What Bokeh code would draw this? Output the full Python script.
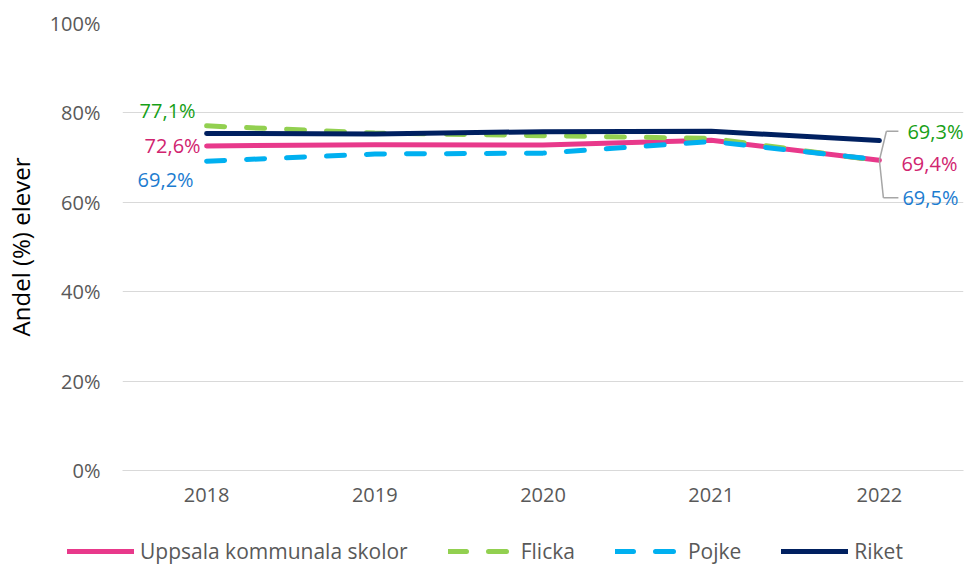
from bokeh.plotting import figure
from bokeh.layouts import column
from bokeh.models import (FactorRange, Range1d, Legend, LegendItem, ColumnDataSource,
                          FixedTicker)
from bokeh.transform import dodge
from bokeh.core.properties import value
from bokeh.embed import file_html
from bokeh.resources import INLINE

# ---------------- data ----------------
years = ["2018", "2019", "2020", "2021", "2022"]
uppsala = [72.6, 72.9, 72.8, 73.9, 69.4]
flicka = [77.1, 75.5, 74.9, 74.3, 69.3]
pojke = [69.2, 70.8, 71.0, 73.6, 69.5]
riket = [75.4, 75.3, 75.8, 75.9, 73.8]
series_names = ["Uppsala kommunala skolor", "Flicka", "Pojke", "Riket"]
y_ticks = [0, 20, 40, 60, 80, 100]
y_tick_labels = ["0%", "20%", "40%", "60%", "80%", "100%"]
y_title = "Andel (%) elever"

# ---------------- style ----------------
FONT = "Open Sans"
C_PINK, C_GREEN, C_BLUE, C_NAVY = "#E8398B", "#92D050", "#00B0F0", "#002060"
L_PINK, L_GREEN, L_BLUE = "#D1246F", "#17A017", "#1C7CD0"
GRAY_TXT = "#595959"
PX_PER_CAT = 168.2
PX_PER_PCT = 4.47
W = 970

styles = [
    dict(line_color=C_PINK),
    dict(line_color=C_GREEN, line_dash="18 22"),
    dict(line_color=C_BLUE, line_dash="18 22"),
    dict(line_color=C_NAVY),
]


def fmt(v):
    return ("%.1f%%" % v).replace(".", ",")


p = figure(x_range=FactorRange(*years), y_range=Range1d(0, 100),
           width=W, height=513, output_backend="svg", toolbar_location=None,
           min_border_top=23, min_border_right=7, min_border_left=122,
           min_border_bottom=43)
p.outline_line_color = None

# axes
p.yaxis.ticker = FixedTicker(ticks=y_ticks)
p.yaxis.major_label_overrides = {t: l for t, l in zip(y_ticks, y_tick_labels)}
p.yaxis.axis_line_color = None
p.yaxis.major_tick_line_color = None
p.yaxis.major_tick_out = 0
p.yaxis.major_tick_in = 0
p.yaxis.minor_tick_line_color = None
p.yaxis.major_label_text_font = FONT
p.yaxis.major_label_text_font_size = "20px"
p.yaxis.major_label_text_color = GRAY_TXT
p.yaxis.major_label_standoff = 22
p.yaxis.axis_label = y_title
p.yaxis.axis_label_text_font = FONT
p.yaxis.axis_label_text_font_size = "24px"
p.yaxis.axis_label_text_font_style = "normal"
p.yaxis.axis_label_text_color = "#000000"
p.yaxis.axis_label_standoff = 10

p.xaxis.axis_line_color = "#D9D9D9"
p.xaxis.axis_line_width = 1
p.xaxis.major_tick_line_color = None
p.xaxis.major_tick_out = 0
p.xaxis.major_tick_in = 0
p.xaxis.minor_tick_line_color = None
p.xaxis.major_label_text_font = FONT
p.xaxis.major_label_text_font_size = "20px"
p.xaxis.major_label_text_color = GRAY_TXT
p.xaxis.major_label_standoff = 17

p.xgrid.visible = False
p.ygrid.grid_line_color = "#D9D9D9"
p.ygrid.grid_line_width = 1

# lines
src = ColumnDataSource(dict(x=years, u=uppsala, f=flicka, b=pojke, r=riket))
for col, st in zip(["u", "f", "b", "r"], styles):
    p.line("x", col, source=src, line_width=5, line_cap="round", line_join="round", **st)

# data labels (first and last year)
first, last = years[0], years[-1]
left_src = ColumnDataSource(dict(
    x=[first] * 3,
    y=[flicka[0], uppsala[0], pojke[0]],
    t=[fmt(flicka[0]), fmt(uppsala[0]), fmt(pojke[0])],
    c=[L_GREEN, L_PINK, L_BLUE],
    xo=[-11, -6, -13],
    yo=[-15.6, 0, 18],
))
p.text("x", "y", text="t", source=left_src, text_color="c", x_offset="xo", y_offset="yo",
       text_align="right", text_baseline="middle", text_font=value(FONT), text_font_size="20px")

right_src = ColumnDataSource(dict(
    x=[last] * 3,
    y=[flicka[-1], uppsala[-1], pojke[-1]],
    t=[fmt(flicka[-1]), fmt(uppsala[-1]), fmt(pojke[-1])],
    c=[L_GREEN, L_PINK, L_BLUE],
    xo=[28, 22, 23],
    yo=[-29.5, 3, 38],
))
p.text("x", "y", text="t", source=right_src, text_color="c", x_offset="xo", y_offset="yo",
       text_align="left", text_baseline="middle", text_font=value(FONT), text_font_size="20px")

# leader lines for the last-year labels
y_top = flicka[-1] + 29.5 / PX_PER_PCT
y_bot = pojke[-1] - 38 / PX_PER_PCT
leader_segs = [
    (0, uppsala[-1], 7, y_top),
    (7, y_top, 19, y_top),
    (0, uppsala[-1], 4, y_bot),
    (4, y_bot, 19, y_bot),
]
for dx0, y0, dx1, y1 in leader_segs:
    s = ColumnDataSource(dict(x=[last], y0=[y0], y1=[y1]))
    p.segment(x0=dodge("x", dx0 / PX_PER_CAT, range=p.x_range), y0="y0",
              x1=dodge("x", dx1 / PX_PER_CAT, range=p.x_range), y1="y1",
              source=s, line_color="#A6A6A6", line_width=1.5)

# legend strip (separate canvas below the chart)
lg = figure(width=W, height=52, x_range=Range1d(0, 1), y_range=Range1d(0, 1),
            x_axis_type=None, y_axis_type=None, output_backend="svg", toolbar_location=None,
            min_border=0)
lg.frame_align = False
lg.outline_line_color = None
lg.xgrid.visible = False
lg.ygrid.visible = False
nan = float("nan")
legend_renderers = [lg.line(x=[nan], y=[nan], line_width=5, line_cap="round", **st)
                    for st in styles]
legend = Legend(items=[LegendItem(label=n, renderers=[r]) for n, r in
                       zip(series_names, legend_renderers)],
                orientation="horizontal", location=(67, 0),
                glyph_width=67, glyph_height=20, label_standoff=6, spacing=40,
                padding=0, margin=0, border_line_color=None, background_fill_alpha=0,
                label_text_font=FONT, label_text_font_size="21px",
                label_text_color=GRAY_TXT)
lg.add_layout(legend, "center")

layout = column(p, lg, spacing=0)
open("out.html", "w").write(file_html(layout, INLINE))
